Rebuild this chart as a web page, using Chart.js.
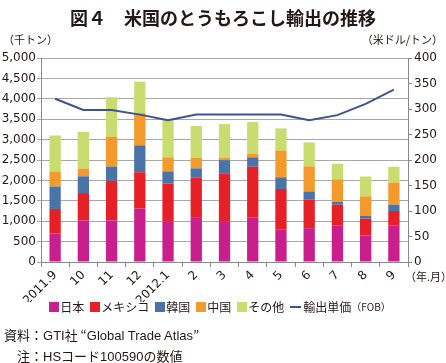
<!DOCTYPE html>
<html>
<head>
<meta charset="utf-8">
<script src="https://cdn.jsdelivr.net/npm/chart.js@4/dist/chart.umd.min.js"></script>
<style>
  body { margin: 0; background: #fff; font-family: "Noto Sans CJK JP", sans-serif; color: #231815; }
  #wrap { position: relative; width: 446px; height: 363px; overflow: hidden; }
  #c { position: absolute; left: 0; top: 0; }
  .t { position: absolute; white-space: nowrap; }
  #title { left: 0; width: 446px; top: 4px; text-align: center; font-size: 18px; font-weight: bold; }
  #lu { left: 3px; top: 31px; font-size: 11px; }
  #ru { right: 3px; top: 31px; font-size: 11px; }
  #xu { left: 405px; top: 268px; font-size: 11px; }
  #legend { left: 0; width: 446px; top: 298px; display: flex; justify-content: center; font-size: 12px; }
  #legend span.i { display: flex; align-items: center; margin-right: 6px; }
  #legend b { display: inline-block; width: 10px; height: 10px; margin-right: 1px; }
  #legend i { display: inline-block; width: 11px; height: 2px; margin-right: 2px; }
  #n1 { left: 4px; top: 325px; font-size: 13px; }
  #n2 { left: 17px; top: 346px; font-size: 13px; }
  .en { font-family: Arial, "Liberation Sans", sans-serif; }
</style>
</head>
<body>
<div id="wrap">
  <canvas id="c" width="446" height="363"></canvas>
  <div class="t" id="title">図４　米国のとうもろこし輸出の推移</div>
  <div class="t" id="lu">（千トン）</div>
  <div class="t" id="ru">（米ドル/トン）</div>
  <div class="t" id="xu">（年.月）</div>
  <div class="t" id="legend"></div>
  <div class="t" id="n1">資料：<span class="en">GTI</span>社 “<span class="en">Global Trade Atlas</span>”</div>
  <div class="t" id="n2">注：<span class="en">HS</span>コード<span class="en">100590</span>の数値</div>
</div>
<script>
const months = ['2011.9', '10', '11', '12', '2012.1', '2', '3', '4', '5', '6', '7', '8', '9'];

// 千トン (each country's own volume)
const japan  = [700, 1020, 1020, 1310, 1000, 1100, 1000, 1095, 790, 830, 890, 645, 890];
const mexico = [600, 670, 970, 890, 920, 975, 1175, 1240, 1000, 705, 515, 420, 360];
const korea  = [550, 410, 350, 660, 300, 220, 320, 230, 285, 195, 65, 65, 155];
const china  = [370, 190, 730, 790, 345, 260, 65, 90, 660, 615, 555, 480, 545];
const others = [880, 900, 970, 770, 935, 780, 820, 775, 540, 585, 385, 485, 385];

// 米ドル/トン
const price = [320, 298, 298, 289, 278, 289, 289, 289, 289, 278, 288, 310, 338];

const series = [
  ['日本', japan, '#C81F8C'],
  ['メキシコ', mexico, '#E52127'],
  ['韓国', korea, '#4A74A8'],
  ['中国', china, '#F39A2C'],
  ['その他', others, '#C9DC70']
];
const lineColor = '#3E5390';

const lg = document.getElementById('legend');
series.forEach(s => {
  lg.innerHTML += '<span class="i"><b style="background:' + s[2] + '"></b>' + s[0] + '</span>';
});
lg.innerHTML += '<span class="i"><i style="background:' + lineColor + '"></i>輸出単価<span style="font-size:10px">（FOB）</span></span>';

const datasets = series.map(s => ({
  type: 'bar',
  label: s[0],
  data: s[1],
  backgroundColor: s[2],
  yAxisID: 'y',
  order: 1,
  barPercentage: 0.4,
  categoryPercentage: 1
}));
datasets.push({
  type: 'line',
  label: '輸出単価（FOB）',
  data: price,
  borderColor: lineColor,
  borderWidth: 2,
  pointRadius: 0,
  tension: 0,
  yAxisID: 'y1',
  order: 0
});

const tickFont = { family: 'Tahoma, "DejaVu Sans", sans-serif', size: 12 };

new Chart(document.getElementById('c').getContext('2d'), {
  type: 'bar',
  data: { labels: months, datasets: datasets },
  options: {
    responsive: false,
    animation: false,
    layout: { padding: { top: 58, bottom: 61, left: 0, right: 0 } },
    plugins: { legend: { display: false }, tooltip: { enabled: false } },
    scales: {
      x: {
        stacked: true,
        afterFit: s => { s.height = 40; },
        grid: { offset: true, drawOnChartArea: false, color: '#888', tickLength: 5 },
        border: { color: '#888' },
        ticks: { color: '#231815', font: tickFont, minRotation: 45, maxRotation: 45, padding: 1 }
      },
      y: {
        stacked: true,
        position: 'left',
        min: 0, max: 5000,
        afterFit: s => { s.width = 41; },
        grid: { color: '#A8A8A8', tickLength: 4 },
        border: { color: '#888' },
        ticks: { stepSize: 500, color: '#231815', font: tickFont, padding: 1,
          callback: v => v.toLocaleString('en-US') }
      },
      y1: {
        position: 'right',
        min: 0, max: 400,
        afterFit: s => { s.width = 38; },
        grid: { drawOnChartArea: false, color: '#888', tickLength: 4 },
        border: { color: '#888' },
        ticks: { stepSize: 50, color: '#231815', font: tickFont, padding: 2 }
      }
    }
  }
});
</script>
</body>
</html>
